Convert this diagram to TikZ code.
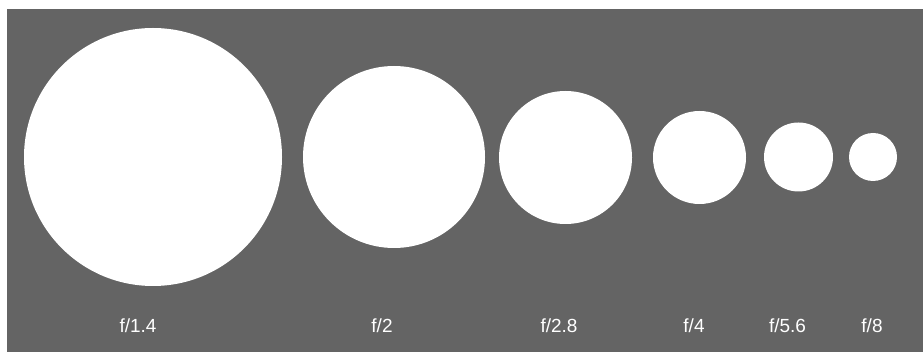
\documentclass[tikz,border=0pt]{standalone}
\usepackage{fontspec}
\setmainfont{Liberation Sans}
\usepackage{xcolor}
\definecolor{panelgray}{HTML}{646464}

\begin{document}
\begin{tikzpicture}[x=1pt,y=-1pt,
    aperture/.style={circle,fill=white,inner sep=0pt,minimum size=#1},
    stoplabel/.style={text=white,font=\fontsize{19}{22}\selectfont,anchor=base}]
\useasboundingbox (0,0) rectangle (923,352);
\fill[white] (0,0) rectangle (923,352);
\fill[panelgray] (7,9) rectangle (923,352);
    \node [aperture=258pt] (A1) at (153,157) {};
    \node [aperture=182pt] (A2) at (394,157) {};
    \node [aperture=133pt] (A3) at (565.5,157.5) {};
    \node [aperture=93pt] (A4) at (699.5,157.5) {};
    \node [aperture=69pt] (A5) at (798.5,157) {};
    \node [aperture=48pt] (A6) at (873,157) {};
    \node [stoplabel] (L1) at (138,333) {f/1.4};
    \node [stoplabel] (L2) at (382,333) {f/2};
    \node [stoplabel] (L3) at (559,333) {f/2.8};
    \node [stoplabel] (L4) at (694,333) {f/4};
    \node [stoplabel] (L5) at (787.5,333) {f/5.6};
    \node [stoplabel] (L6) at (872,333) {f/8};
\end{tikzpicture}
\end{document}
